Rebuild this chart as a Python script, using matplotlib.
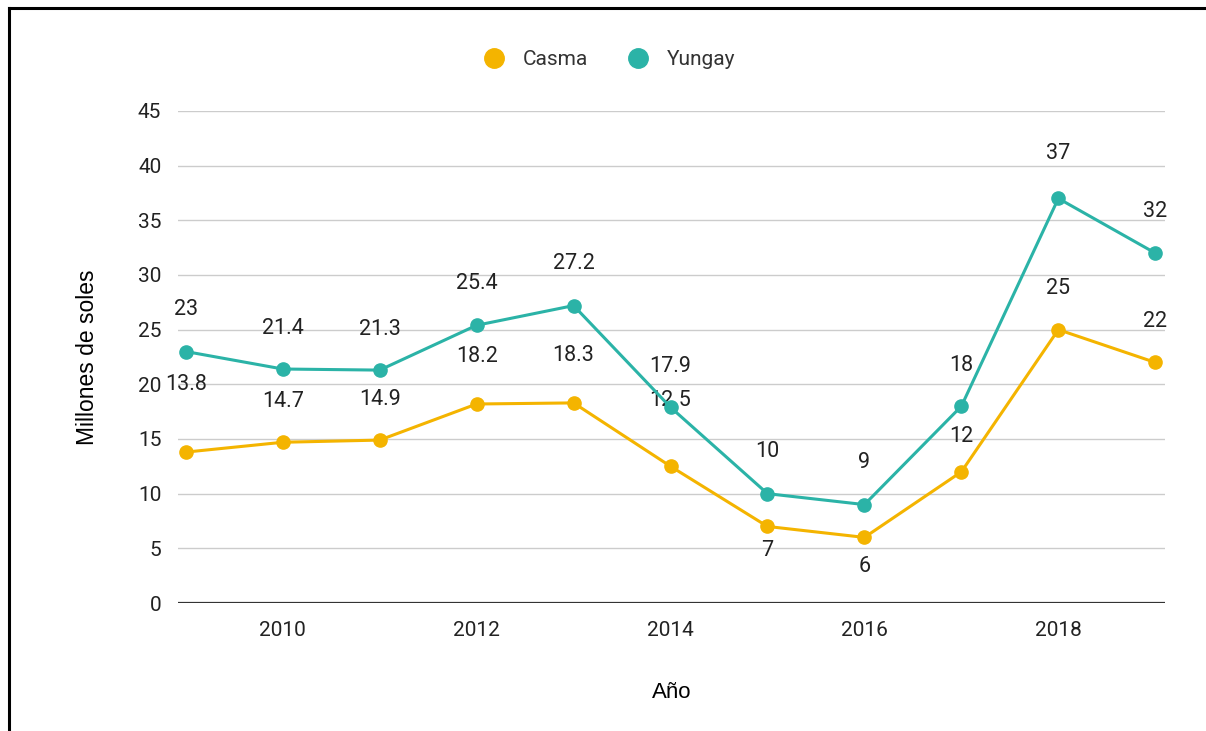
import numpy as np
import matplotlib
matplotlib.use("Agg")
import matplotlib.pyplot as plt
from matplotlib.lines import Line2D

# --- datos ---
years = [2009, 2010, 2011, 2012, 2013, 2014, 2015, 2016, 2017, 2018, 2019]
casma = [13.8, 14.7, 14.9, 18.2, 18.3, 12.5, 7, 6, 12, 25, 22]
yungay = [23, 21.4, 21.3, 25.4, 27.2, 17.9, 10, 9, 18, 37, 32]
casma_labels = ["13.8", "14.7", "14.9", "18.2", "18.3", "12.5", "7", "6", "12", "25", "22"]
yungay_labels = ["23", "21.4", "21.3", "25.4", "27.2", "17.9", "10", "9", "18", "37", "32"]
xticks = [2010, 2012, 2014, 2016, 2018]
yticks = [0, 5, 10, 15, 20, 25, 30, 35, 40, 45]

# desplazamiento vertical de las etiquetas (px)
casma_off = [68, 41, 41, 48, 47, 66, -24, -29, 35, 41, 41]
yungay_off = [42, 41, 41, 42, 42, 41, 42, 42, 41, 45, 42]

C_CASMA = "#f4b400"
C_YUNGAY = "#2bb3a7"

plt.rcParams["font.family"] = ["Roboto", "DejaVu Sans"]

fig = plt.figure(figsize=(12.06, 7.31), dpi=100)
ax = fig.add_axes([0.1476, 0.1751, 0.966 - 0.1476, 0.8482 - 0.1751])

for yv in yticks[1:]:
    ax.axhline(yv, color="#cccccc", linewidth=1.0, zorder=0)
ax.axhline(0, color="#333333", linewidth=1.6, zorder=1)

ax.plot(years, casma, color=C_CASMA, linewidth=2.2, marker="o", markersize=9.5, zorder=3)
ax.plot(years, yungay, color=C_YUNGAY, linewidth=2.2, marker="o", markersize=9.5, zorder=4)

for x, y, t, o in zip(years, casma, casma_labels, casma_off):
    ax.annotate(t, (x, y), xytext=(0, o), textcoords="offset pixels",
                ha="center", va="center", fontsize=15.5, color="#222222")
for x, y, t, o in zip(years, yungay, yungay_labels, yungay_off):
    ax.annotate(t, (x, y), xytext=(0, o), textcoords="offset pixels",
                ha="center", va="center", fontsize=15.5, color="#222222")

ax.set_xlim(2008.92, 2019.1)
ax.set_ylim(0, 45)
ax.set_xticks(xticks)
ax.set_yticks(yticks)
ax.tick_params(axis="both", length=0, labelsize=15, colors="#222222")
ax.tick_params(axis="x", pad=13)
ax.tick_params(axis="y", pad=12)
for s in ax.spines.values():
    s.set_visible(False)

ax.set_ylabel("Millones de soles", fontsize=16.5, family=["Liberation Sans", "DejaVu Sans"], labelpad=28)
ax.set_xlabel("Año", fontsize=16, family=["Liberation Sans", "DejaVu Sans"], labelpad=30)

handles = [Line2D([], [], linestyle="none", marker="o", markersize=14, color=C_CASMA),
           Line2D([], [], linestyle="none", marker="o", markersize=14, color=C_YUNGAY)]
fig.legend(handles, ["Casma", "Yungay"], loc="center", bbox_to_anchor=(0.501, 0.918),
           ncol=2, frameon=False, fontsize=15, handletextpad=0.4, columnspacing=1.4,
           labelcolor="#333333")

# marco
fig.add_artist(Line2D([0.0075, 0.0075], [0, 0.989], color="black", linewidth=2.2, transform=fig.transFigure))
fig.add_artist(Line2D([0.0075, 1.0], [0.989, 0.989], color="black", linewidth=2.2, transform=fig.transFigure))

fig.savefig("out.png", dpi=100, facecolor="white")
